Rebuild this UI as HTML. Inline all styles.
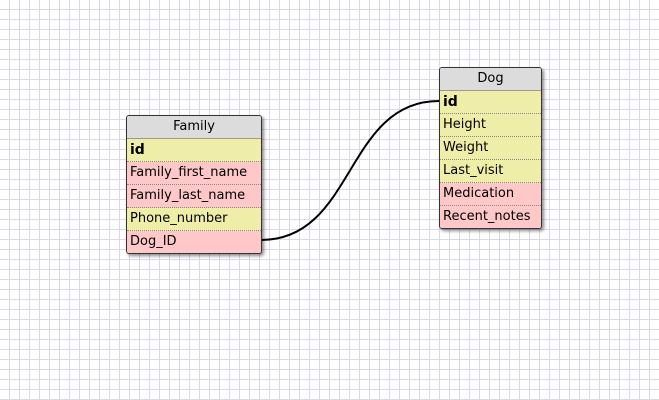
<!DOCTYPE html><html><head><style>
body{margin:0;width:659px;height:400px;overflow:hidden;background:#fff;
background-image:linear-gradient(to right,#dcd8e8 1px,transparent 1px),linear-gradient(to bottom,#dcd8e8 1px,transparent 1px);background-size:10px 10px;background-position:9px 9px;font-family:"DejaVu Sans",sans-serif;position:relative}
.t{position:absolute;border:1px solid #333;border-radius:3px;box-shadow:2px 2px 3px rgba(0,0,0,.45);background:#fff;overflow:hidden}
.h{height:22px;background:#dcdcdc;text-align:center;font-size:13px;line-height:22px;border-bottom:1px solid #999}
.r{height:22px;line-height:22px;font-size:13px;padding-left:3px;border-bottom:1px dotted #888;white-space:nowrap}
.r:last-child{border-bottom:none}
.y{background:#eeeea8}.p{background:#fec8c8}.b{font-weight:bold;font-size:14px}
svg{position:absolute;left:0;top:0}
</style></head><body>
<svg width="659" height="400"><path d="M261,240 C355,240 345,101 439,101" fill="none" stroke="#000" stroke-width="2"/></svg>
<div class="t" style="left:126px;top:115px;width:134px">
<div class="h">Family</div>
<div class="r y b">id</div>
<div class="r p">Family_first_name</div>
<div class="r p">Family_last_name</div>
<div class="r y">Phone_number</div>
<div class="r p">Dog_ID</div>
</div>
<div class="t" style="left:439px;top:67px;width:101px">
<div class="h">Dog</div>
<div class="r y b">id</div>
<div class="r y">Height</div>
<div class="r y">Weight</div>
<div class="r y">Last_visit</div>
<div class="r p">Medication</div>
<div class="r p">Recent_notes</div>
</div>
</body></html>
